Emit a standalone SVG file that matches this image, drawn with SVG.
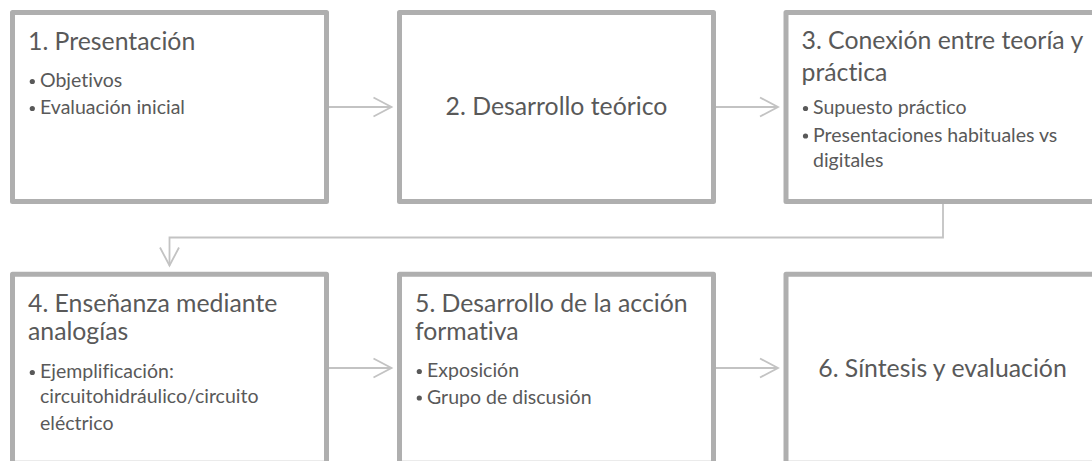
<svg xmlns="http://www.w3.org/2000/svg" width="1092" height="461" viewBox="0 0 1092 461">
<style>
.box{fill:#ffffff;stroke:#afafaf;stroke-width:5;stroke-linejoin:round}
.t{font-family:Lato,"Liberation Sans",sans-serif;font-size:24.8px;fill:#595959;font-variant-ligatures:none}
.b{font-family:Lato,"Liberation Sans",sans-serif;font-size:19.5px;fill:#595959;font-variant-ligatures:none}
.d{fill:#595959}
.c{fill:none;stroke:#c3c3c3;stroke-width:1.8}
</style>
<defs>
<marker id="ah" markerUnits="userSpaceOnUse" markerWidth="24" markerHeight="24" viewBox="-20 -12 24 24" refX="0" refY="0" orient="auto" overflow="visible">
<path d="M-18,-9.5 L0,0 L-18,9.5" fill="none" stroke="#c3c3c3" stroke-width="1.8"/>
</marker>
</defs>
<rect width="1092" height="461" fill="#ffffff"/>
<g id="connectors">
<line class="c" x1="329" y1="107" x2="391.5" y2="107" marker-end="url(#ah)"/>
<line class="c" x1="716" y1="107" x2="778" y2="107" marker-end="url(#ah)"/>
<polyline class="c" points="943,204 943,237.5 169.5,237.5 169.5,265.5" marker-end="url(#ah)"/>
<line class="c" x1="329" y1="368" x2="391.5" y2="368" marker-end="url(#ah)"/>
<line class="c" x1="716" y1="368" x2="778" y2="368" marker-end="url(#ah)"/>
</g>
<g id="node1">
<rect class="box" x="12.5" y="12.5" width="314" height="189"/>
<text class="t" x="28" y="50">1. Presentación</text>
<circle class="d" cx="32.3" cy="81.5" r="2.6"/><text class="b" x="40" y="87">Objetivos</text>
<circle class="d" cx="32.3" cy="108.5" r="2.6"/><text class="b" x="40" y="114">Evaluación inicial</text>
</g>
<g id="node2">
<rect class="box" x="399.5" y="12.5" width="314" height="189"/>
<text class="t" x="556.5" y="115" text-anchor="middle">2. Desarrollo teórico</text>
</g>
<g id="node3">
<rect class="box" x="786" y="12.5" width="314" height="189"/>
<text class="t" x="801.5" y="49">3. Conexión entre teoría y</text>
<text class="t" x="801.5" y="81">práctica</text>
<circle class="d" cx="805.5" cy="108.5" r="2.6"/><text class="b" x="813" y="114">Supuesto práctico</text>
<circle class="d" cx="805.5" cy="136" r="2.6"/><text class="b" x="813" y="141.5">Presentaciones habituales vs</text>
<text class="b" x="813" y="166.5">digitales</text>
</g>
<g id="node4">
<rect class="box" x="12.5" y="274.2" width="314" height="189"/>
<text class="t" x="28" y="311.7">4. Enseñanza mediante</text>
<text class="t" x="28" y="340">analogías</text>
<circle class="d" cx="32.3" cy="372.5" r="2.6"/><text class="b" x="40" y="378">Ejemplificación:</text>
<text class="b" x="40" y="403">circuitohidráulico/circuito</text>
<text class="b" x="40" y="430">eléctrico</text>
</g>
<g id="node5">
<rect class="box" x="399.5" y="274.2" width="314" height="189"/>
<text class="t" x="415" y="311.7">5. Desarrollo de la acción</text>
<text class="t" x="415" y="340">formativa</text>
<circle class="d" cx="419.3" cy="371.5" r="2.6"/><text class="b" x="427" y="377">Exposición</text>
<circle class="d" cx="419.3" cy="398" r="2.6"/><text class="b" x="427" y="403.5">Grupo de discusión</text>
</g>
<g id="node6">
<rect class="box" x="786" y="274.2" width="314" height="189"/>
<text class="t" x="942.5" y="376.7" text-anchor="middle">6. Síntesis y evaluación</text>
</g>
</svg>
